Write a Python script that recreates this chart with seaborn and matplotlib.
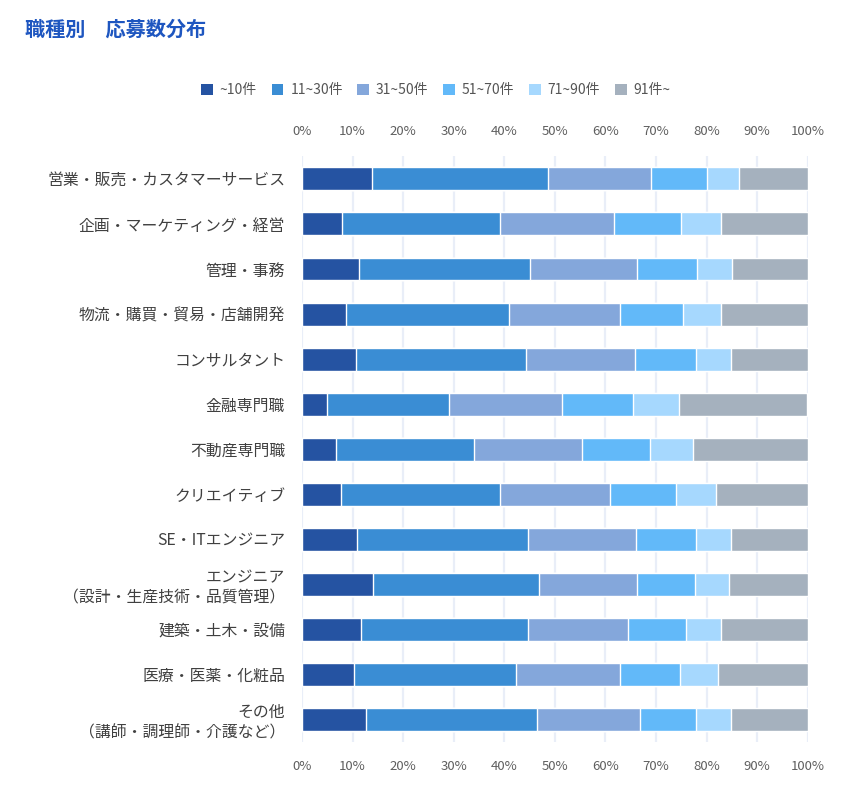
import numpy as np
import pandas as pd
import matplotlib
matplotlib.use("Agg")
import matplotlib.pyplot as plt
from matplotlib.patches import Patch
from matplotlib.ticker import PercentFormatter
import seaborn as sns

sns.set_style("white")
plt.rcParams["font.family"] = ["Noto Sans CJK JP", "DejaVu Sans"]

categories = [
    "営業・販売・カスタマーサービス",
    "企画・マーケティング・経営",
    "管理・事務",
    "物流・購買・貿易・店舗開発",
    "コンサルタント",
    "金融専門職",
    "不動産専門職",
    "クリエイティブ",
    "SE・ITエンジニア",
    "エンジニア\n（設計・生産技術・品質管理）",
    "建築・土木・設備",
    "医療・医薬・化粧品",
    "その他\n（講師・調理師・介護など）",
]
series = ["~10件", "11~30件", "31~50件", "51~70件", "71~90件", "91件~"]

# share (%) of each bucket per category
upto10 = [13.8, 7.9, 11.2, 8.7, 10.7, 4.9, 6.7, 7.7, 10.9, 14.0, 11.6, 10.3, 12.7]
r11_30 = [34.8, 31.3, 33.9, 32.2, 33.6, 24.2, 27.3, 31.5, 33.8, 32.9, 33.1, 32.0, 33.8]
r31_50 = [20.4, 22.5, 21.2, 22.0, 21.5, 22.3, 21.4, 21.7, 21.4, 19.4, 19.7, 20.6, 20.3]
r51_70 = [11.1, 13.2, 11.8, 12.4, 12.1, 14.1, 13.4, 13.1, 11.8, 11.4, 11.6, 11.8, 11.1]
r71_90 = [6.3, 7.9, 6.9, 7.5, 7.0, 9.1, 8.5, 7.9, 7.0, 6.8, 6.8, 7.6, 7.0]
over91 = [13.6, 17.2, 15.0, 17.2, 15.1, 25.3, 22.7, 18.1, 15.1, 15.5, 17.2, 17.7, 15.1]

colors = ["#2553A2", "#3A8DD4", "#84A7DB", "#62B9F9", "#A6D8FE", "#A5B1BE"]

df = pd.DataFrame(
    np.array([upto10, r11_30, r31_50, r51_70, r71_90, over91]).T,
    columns=series,
)
df["category"] = categories
cum = df[series].cumsum(axis=1)

fig = plt.figure(figsize=(8.53, 7.9), dpi=100)
ax = fig.add_axes([0.354, 0.061, 0.593, 0.741])

# stacked: draw cumulative totals from the back to the front
for i in range(len(series) - 1, -1, -1):
    sns.barplot(x=cum[series[i]], y=df["category"], color=colors[i],
                orient="h", width=0.51, ax=ax, saturation=1, zorder=3)

ax.set_xlim(0, 100)
ax.set_ylim(len(categories) - 0.5, -0.5)
ax.set_xticks(np.arange(0, 101, 10))
ax.xaxis.set_major_formatter(PercentFormatter(decimals=0))
ax.grid(axis="x", color="#E9EEF8", linewidth=1.6, zorder=0)
ax.set_axisbelow(True)
for s in ax.spines.values():
    s.set_visible(False)
ax.tick_params(axis="x", top=False, bottom=False, labeltop=True, labelbottom=True,
               length=0, pad=13, labelsize=9.5, labelcolor="#5f5f5f")
ax.tick_params(axis="y", length=0, pad=12, labelsize=11.4, labelcolor="#404040")
for t in ax.get_yticklabels():
    t.set_linespacing(1.25)
ax.set_xlabel("")
ax.set_ylabel("")

handles = [Patch(facecolor=c, edgecolor="none") for c in colors]
fig.legend(handles, series, loc="center", bbox_to_anchor=(0.511, 0.886), ncol=6,
           frameon=False, fontsize=10, handlelength=0.85, handleheight=0.85,
           handletextpad=0.5, columnspacing=1.05, labelcolor="#555555")

fig.text(0.029, 0.963, "職種別　応募数分布", fontsize=14.5, fontweight="bold",
         color="#1E56C0", va="center", ha="left")

fig.savefig("out.png", dpi=100, facecolor="white")
